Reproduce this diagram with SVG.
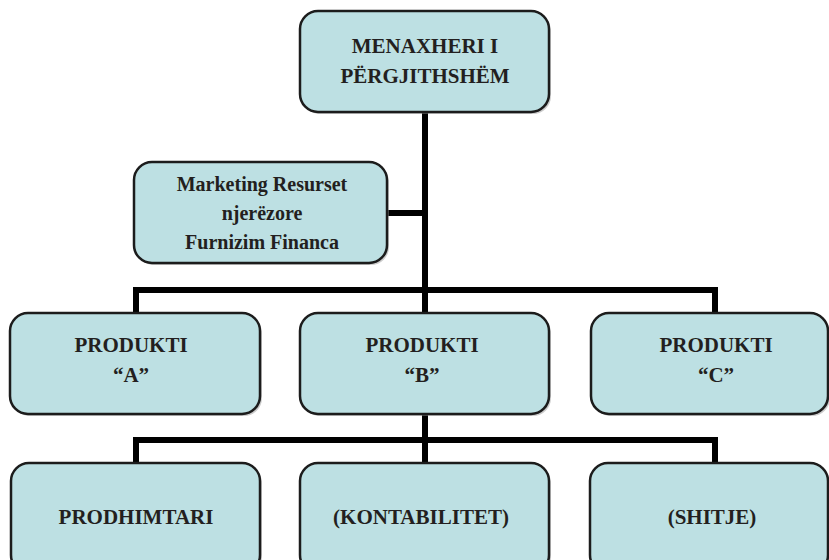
<svg xmlns="http://www.w3.org/2000/svg" width="829" height="560" viewBox="0 0 829 560">
  <style>
    .box { fill: #bde0e3; stroke: #1c1c1c; stroke-width: 2.5; }
    .shadow { fill: #9a9a9a; opacity: 0.5; }
    .label { font-family: "Liberation Serif", "Times New Roman", serif; font-weight: bold; font-size: 21px; fill: #231f20; text-anchor: middle; }
    .small { font-size: 20px; }
    .wire { fill: none; stroke: #000; stroke-width: 6; stroke-linecap: butt; stroke-linejoin: miter; }
  </style>

  <!-- connectors -->
  <g id="connectors">
    <path class="wire" d="M425,112 V313"/>
    <path class="wire" d="M387,213 H425"/>
    <path class="wire" d="M136,313 V290 H715 V313"/>
    <path class="wire" d="M425,414 V463"/>
    <path class="wire" d="M136,463 V440 H715 V463"/>
  </g>

  <!-- top manager -->
  <g id="menaxheri">
    <rect class="shadow" x="302" y="13" width="249" height="101" rx="18"/>
    <rect class="box" x="300" y="11" width="249" height="101" rx="18"/>
    <text class="label" x="425" y="53">MENAXHERI I</text>
    <text class="label" x="425" y="83">PËRGJITHSHËM</text>
  </g>

  <!-- staff functions -->
  <g id="funksionet">
    <rect class="shadow" x="136" y="164" width="253" height="101" rx="18"/>
    <rect class="box" x="134" y="162" width="253" height="101" rx="18"/>
    <text class="label small" x="262" y="191">Marketing Resurset</text>
    <text class="label small" x="262" y="220">njerëzore</text>
    <text class="label small" x="262" y="249">Furnizim Financa</text>
  </g>

  <!-- product divisions -->
  <g id="produkti-a">
    <rect class="shadow" x="12" y="315" width="250" height="101" rx="18"/>
    <rect class="box" x="10" y="313" width="250" height="101" rx="18"/>
    <text class="label" x="131" y="352">PRODUKTI</text>
    <text class="label" x="131" y="382">“A”</text>
  </g>
  <g id="produkti-b">
    <rect class="shadow" x="302" y="315" width="249" height="101" rx="18"/>
    <rect class="box" x="300" y="313" width="249" height="101" rx="18"/>
    <text class="label" x="422" y="352">PRODUKTI</text>
    <text class="label" x="422" y="382">“B”</text>
  </g>
  <g id="produkti-c">
    <rect class="shadow" x="593" y="315" width="237" height="101" rx="18"/>
    <rect class="box" x="591" y="313" width="237" height="101" rx="18"/>
    <text class="label" x="716" y="352">PRODUKTI</text>
    <text class="label" x="716" y="382">“C”</text>
  </g>

  <!-- departments under product B -->
  <g id="prodhimtari">
    <rect class="shadow" x="13" y="465" width="249" height="110" rx="18"/>
    <rect class="box" x="11" y="463" width="249" height="110" rx="18"/>
    <text class="label" x="136" y="524">PRODHIMTARI</text>
  </g>
  <g id="kontabilitet">
    <rect class="shadow" x="302" y="465" width="249" height="110" rx="18"/>
    <rect class="box" x="300" y="463" width="249" height="110" rx="18"/>
    <text class="label" x="421" y="524">(KONTABILITET)</text>
  </g>
  <g id="shitje">
    <rect class="shadow" x="592" y="465" width="238" height="110" rx="18"/>
    <rect class="box" x="590" y="463" width="238" height="110" rx="18"/>
    <text class="label" x="712" y="524">(SHITJE)</text>
  </g>
</svg>
